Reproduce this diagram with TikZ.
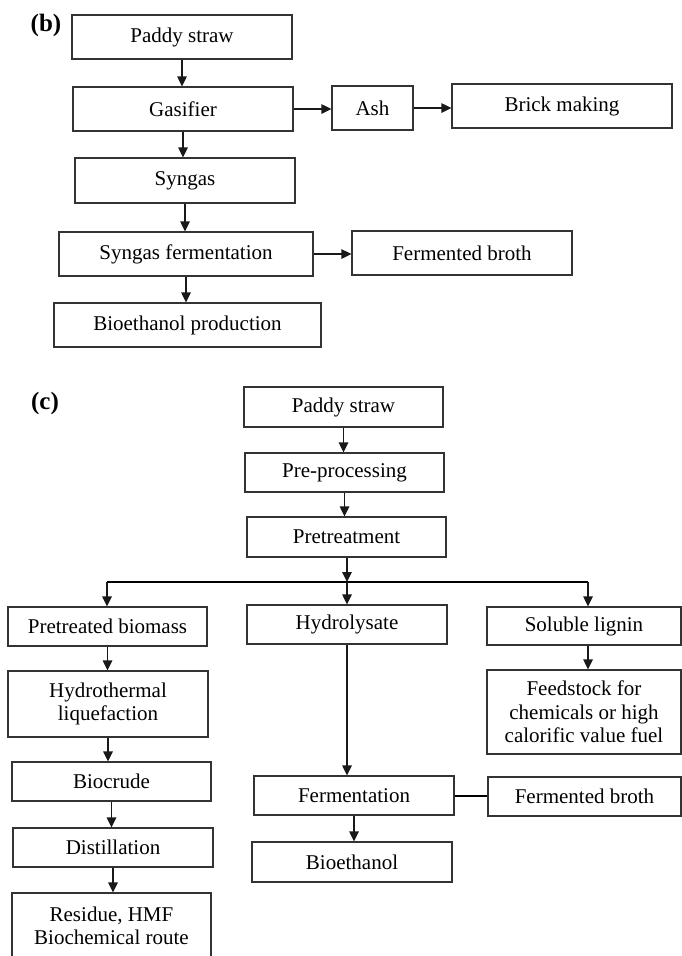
\documentclass[tikz,border=0pt]{standalone}
\usepackage{fontspec}
\setmainfont{Liberation Serif}
\usetikzlibrary{arrows.meta}
\begin{document}
\begin{tikzpicture}[x=1pt,y=-1pt,
  box/.style={draw=black!80, line width=1.3pt, inner sep=0pt, align=center,
    font=\fontsize{21}{23.5}\selectfont},
  arr/.style={draw=black!90, line width=1.4pt, -{Triangle[length=10pt,width=9.5pt]}},
  plain/.style={draw=black, line width=2pt},
  lbl/.style={font=\fontsize{25}{28}\selectfont\bfseries, inner sep=0pt}]
\useasboundingbox (0,0) rectangle (682,956);
% ---------- (b) ----------
\node[lbl] (lb) at (46,25) {(b)};
\node[box, minimum width=220pt, minimum height=44pt] (ps1) at (182,37) {Paddy straw};
\node[box, minimum width=220pt, minimum height=44pt] (gas) at (183,109) {Gasifier};
\node[box, minimum width=220pt, minimum height=45pt] (syn) at (185,180.5) {Syngas};
\node[box, minimum width=81pt, minimum height=44pt] (ash) at (372.5,108) {Ash};
\node[box, minimum width=220pt, minimum height=44pt] (brick) at (562,106) {Brick making};
\node[box, minimum width=254pt, minimum height=44pt] (sf) at (186,254) {Syngas fermentation};
\node[box, minimum width=220pt, minimum height=44pt] (fb1) at (462,253) {Fermented broth};
\node[box, minimum width=267pt, minimum height=44pt] (bp) at (187.5,325) {Bioethanol production};
\draw[arr] (ps1.south) -- (ps1.south |- gas.north);
\draw[arr] (gas.south) -- (gas.south |- syn.north);
\draw[arr] (syn.south) -- (syn.south |- sf.north);
\draw[arr] (sf.south) -- (sf.south |- bp.north);
\draw[arr] (gas.east) -- (gas.east -| ash.west);
\draw[arr] (ash.east) -- (ash.east -| brick.west);
\draw[arr] (sf.east) -- (sf.east -| fb1.west);
% ---------- (c) ----------
\node[lbl] (lc) at (45,403) {(c)};
\node[box, minimum width=199pt, minimum height=40pt] (ps2) at (343.5,407) {Paddy straw};
\node[box, minimum width=199pt, minimum height=39pt] (pp) at (344.5,472.5) {Pre-processing};
\node[box, minimum width=199pt, minimum height=40pt] (pt) at (346.5,537) {Pretreatment};
\node[box, minimum width=199pt, minimum height=39pt] (pb) at (107.5,626.5) {Pretreated biomass};
\node[box, minimum width=200pt, minimum height=66pt] (htl) at (108,704) {Hydrothermal\\liquefaction};
\node[box, minimum width=199pt, minimum height=39pt] (bc) at (111.5,781.5) {Biocrude};
\node[box, minimum width=200pt, minimum height=39pt] (dist) at (113,847.5) {Distillation};
\node[box, minimum width=199pt, minimum height=66pt] (res) at (111.5,926) {Residue, HMF\\Biochemical route};
\node[box, minimum width=200pt, minimum height=39pt] (hyd) at (347,624.5) {Hydrolysate};
\node[box, minimum width=200pt, minimum height=39pt] (fer) at (354,795.5) {Fermentation};
\node[box, minimum width=200pt, minimum height=40pt] (bio) at (352,862) {Bioethanol};
\node[box, minimum width=194pt, minimum height=38pt] (sl) at (584,626) {Soluble lignin};
\node[box, minimum width=194pt, minimum height=84pt] (fl) at (584,712) {Feedstock for\\chemicals or high\\calorific value fuel};
\node[box, minimum width=193pt, minimum height=39pt] (fb2) at (584.5,796.5) {Fermented broth};
\coordinate (busL) at (107,582);
\coordinate (busM) at (347,582);
\coordinate (busR) at (588,582);
\draw[arr] (ps2.south) -- (ps2.south |- pp.north);
\draw[arr] (pp.south) -- (pp.south |- pt.north);
\draw[arr] (pt.south -| busM) -- (busM);
\draw[plain] (busL) -- (busR);
\draw[arr] (busL) -- (busL |- pb.north);
\draw[arr] (busM) -- (busM |- hyd.north);
\draw[arr] (busR) -- (busR |- sl.north);
\draw[arr] (sl.south -| busR) -- (busR |- fl.north);
\draw[arr] (pb.south) -- (pb.south |- htl.north);
\draw[arr] (htl.south) -- (htl.south |- bc.north);
\draw[arr] (bc.south) -- (bc.south |- dist.north);
\draw[arr] (dist.south) -- (dist.south |- res.north);
\draw[arr] (hyd.south) -- (hyd.south |- fer.north);
\draw[arr] (fer.south) -- (fer.south |- bio.north);
\draw[plain] (fer.east) -- (fer.east -| fb2.west);
\end{tikzpicture}
\end{document}
